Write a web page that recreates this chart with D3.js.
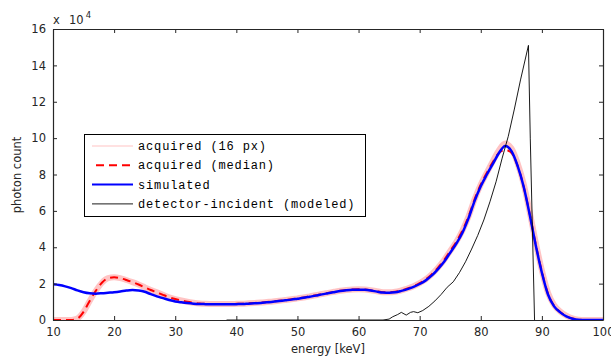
<!DOCTYPE html>
<html>
<head>
<meta charset="utf-8">
<script src="https://cdn.jsdelivr.net/npm/d3@7"></script>
<style>
  body { margin: 0; background: #fff; }
  svg { display: block; }
  .tick-label { font-family: "DejaVu Sans", sans-serif; font-size: 11.5px; fill: #262626; }
  .legend-text { font-family: "Liberation Mono", monospace; font-size: 12px; letter-spacing: 0.85px; fill: #000; }
</style>
</head>
<body>
<div id="chart"></div>
<script>
var width = 611, height = 358
var margins = { left: 53, right: 8, top: 29, bottom: 38 }

// energy grid (keV) for the measured / simulated spectra
var energy = d3.range(10, 101)

// simulated spectrum (x 10^4)
var simulated = [
  1.96, 1.92, 1.85, 1.75, 1.63, 1.53, 1.47, 1.45, 1.47, 1.50,
  1.53, 1.57, 1.62, 1.65, 1.62, 1.55, 1.42, 1.30, 1.20, 1.10,
  1.02, 0.97, 0.93, 0.90, 0.88, 0.87, 0.86, 0.86, 0.86, 0.86,
  0.87, 0.88, 0.90, 0.92, 0.94, 0.97, 1.00, 1.04, 1.08, 1.12,
  1.17, 1.22, 1.28, 1.34, 1.41, 1.47, 1.53, 1.59, 1.63, 1.66,
  1.67, 1.66, 1.62, 1.56, 1.51, 1.50, 1.52, 1.60, 1.70, 1.82,
  1.98, 2.18, 2.45, 2.80, 3.20, 3.70, 4.20, 4.80, 5.60, 6.55,
  7.35, 8.00, 8.60, 9.20, 9.57, 9.30, 8.50, 7.35, 5.80, 4.10,
  2.60, 1.40, 0.75, 0.42, 0.20, 0.07, 0.01, 0, 0, 0, 0
]

// acquired spectrum, median over pixels (x 10^4)
var acquiredMedian = [
  0, 0, 0, 0, 0.08, 0.45, 1.05, 1.60, 2.05, 2.30,
  2.35, 2.30, 2.20, 2.08, 1.95, 1.80, 1.65, 1.52, 1.38, 1.25,
  1.15, 1.07, 1.00, 0.95, 0.91, 0.89, 0.88, 0.88, 0.88, 0.88,
  0.89, 0.90, 0.92, 0.94, 0.96, 0.99, 1.02, 1.06, 1.10, 1.14,
  1.19, 1.24, 1.30, 1.36, 1.43, 1.49, 1.55, 1.61, 1.65, 1.68,
  1.69, 1.68, 1.64, 1.58, 1.53, 1.52, 1.55, 1.63, 1.73, 1.86,
  2.03, 2.24, 2.52, 2.88, 3.30, 3.80, 4.30, 4.92, 5.70, 6.65,
  7.45, 8.10, 8.70, 9.20, 9.35, 9.20, 8.50, 7.35, 5.85, 4.15,
  2.65, 1.45, 0.78, 0.44, 0.22, 0.08, 0.02, 0, 0, 0, 0
]

// acquired spectra of the 16 single pixels, drawn as one light band (x 10^4)
var acquired16 = [
  0, 0, 0, 0, 0.08, 0.45, 1.05, 1.60, 2.05, 2.30,
  2.35, 2.30, 2.20, 2.08, 1.95, 1.80, 1.65, 1.52, 1.38, 1.25,
  1.15, 1.07, 1.00, 0.95, 0.91, 0.89, 0.88, 0.88, 0.88, 0.88,
  0.89, 0.90, 0.92, 0.94, 0.96, 0.99, 1.02, 1.06, 1.10, 1.14,
  1.19, 1.24, 1.30, 1.36, 1.43, 1.49, 1.55, 1.61, 1.65, 1.68,
  1.69, 1.68, 1.64, 1.58, 1.53, 1.52, 1.55, 1.63, 1.73, 1.86,
  2.03, 2.24, 2.52, 2.88, 3.30, 3.80, 4.30, 4.92, 5.70, 6.65,
  7.45, 8.10, 8.75, 9.35, 9.70, 9.45, 8.65, 7.50, 5.95, 4.25,
  2.72, 1.50, 0.82, 0.47, 0.24, 0.09, 0.02, 0, 0, 0, 0
]

// detector-incident spectrum (modeled), own energy grid
var incidentEnergy = [
  38.4, 64.0, 65.0, 65.6, 66.4, 67.0, 67.8, 68.5, 69.0, 69.7, 70.5,
  71.5, 72.5, 73.5, 74.5, 75.5, 76.5, 77.5, 78.5, 79.5, 80.5,
  81.5, 82.5, 83.5, 84.5, 85.5, 86.5, 87.8, 88.1, 88.8
]
var incident = [
  0, 0, 0.05, 0.18, 0.30, 0.42, 0.27, 0.42, 0.46, 0.40, 0.52,
  0.75, 1.05, 1.40, 1.80, 2.10, 2.60, 3.20, 3.90, 4.65, 5.50,
  6.50, 7.60, 8.90, 10.10, 11.60, 13.20, 15.10, 10.0, 0
]

var xTicks = d3.range(10, 101, 10)
var yTicks = d3.range(0, 17, 2)

var legendLabels = ['acquired (16 px)', 'acquired (median)', 'simulated', 'detector-incident (modeled)']

var w = width - margins.left - margins.right,
    h = height - margins.top - margins.bottom

var x = d3.scaleLinear().domain([10, 100]).range([0, w])
var y = d3.scaleLinear().domain([0, 16]).range([h, 0])

var svg = d3.select('#chart').append('svg')
    .attr('width', width)
    .attr('height', height)

var vis = svg.append('g')
    .attr('transform', 'translate(' + margins.left + ',' + margins.top + ')')

var clip = vis.append('clipPath').attr('id', 'clip')
clip.append('rect').attr('x', 0).attr('y', -2).attr('width', w).attr('height', h + 2)

var plot = vis.append('g').attr('clip-path', 'url(#clip)')

function series(xs, ys) {
    return xs.map(function(e, i) { return [e, ys[i]] })
}

var smooth = d3.line()
    .x(function(d) { return x(d[0]) })
    .y(function(d) { return y(d[1]) })
    .curve(d3.curveMonotoneX)

var straight = d3.line()
    .x(function(d) { return x(d[0]) })
    .y(function(d) { return y(d[1]) })

// acquired (16 px)
plot.append('path')
    .datum(series(energy, acquired16))
    .attr('d', smooth)
    .attr('fill', 'none')
    .attr('stroke', '#ffc4c4')
    .attr('stroke-width', 6)
    .attr('stroke-linejoin', 'round')

// acquired (median)
plot.append('path')
    .datum(series(energy, acquiredMedian))
    .attr('d', smooth)
    .attr('fill', 'none')
    .attr('stroke', '#ff0000')
    .attr('stroke-width', 2)
    .attr('stroke-dasharray', '8,5')

// simulated
plot.append('path')
    .datum(series(energy, simulated))
    .attr('d', smooth)
    .attr('fill', 'none')
    .attr('stroke', '#0000ff')
    .attr('stroke-width', 2.5)

// detector incident
plot.append('path')
    .datum(series(incidentEnergy, incident))
    .attr('d', straight)
    .attr('fill', 'none')
    .attr('stroke', '#000')
    .attr('stroke-width', 0.9)

// axes box with inward ticks on all four sides
var axisBottom = vis.append('g').attr('transform', 'translate(0,' + h + ')')
    .call(d3.axisBottom(x).tickValues(xTicks).tickSizeInner(-4).tickSizeOuter(0).tickPadding(8))
var axisTop = vis.append('g')
    .call(d3.axisTop(x).tickValues(xTicks).tickSizeInner(-4).tickSizeOuter(0).tickFormat(''))
var axisLeft = vis.append('g')
    .call(d3.axisLeft(y).tickValues(yTicks).tickSizeInner(-4).tickSizeOuter(0).tickPadding(7))
var axisRight = vis.append('g').attr('transform', 'translate(' + w + ',0)')
    .call(d3.axisRight(y).tickValues(yTicks).tickSizeInner(-4).tickSizeOuter(0).tickFormat(''))

;[axisBottom, axisTop, axisLeft, axisRight].forEach(function(a) {
    a.attr('font-family', null).attr('font-size', null)
    a.select('.domain').attr('stroke', '#262626').attr('stroke-width', 1.2)
    a.selectAll('.tick line').attr('stroke', '#262626')
    a.selectAll('.tick text').attr('class', 'tick-label').attr('fill', null)
})

// exponent label
var expo = vis.append('text')
    .attr('class', 'tick-label')
    .attr('y', -5)
expo.append('tspan').attr('x', 0).text('x')
expo.append('tspan').attr('x', 16).text('10')
expo.append('tspan').attr('font-size', '8.5px').attr('dy', -6).attr('dx', 2).text('4')

// axis titles
svg.append('text')
    .attr('class', 'tick-label')
    .attr('x', margins.left + w / 2)
    .attr('y', 353)
    .attr('text-anchor', 'middle')
    .text('energy [keV]')

svg.append('text')
    .attr('class', 'tick-label')
    .attr('transform', 'translate(21,175) rotate(-90)')
    .attr('text-anchor', 'middle')
    .text('photon count')

// legend
var legend = svg.append('g')
legend.append('rect')
    .attr('x', 84.5).attr('y', 134.5)
    .attr('width', 281).attr('height', 82)
    .attr('fill', '#fff')
    .attr('stroke', '#000')
    .attr('stroke-width', 1)

var legendStyles = [
    { stroke: '#ffc4c4', width: 1.2, dash: null },
    { stroke: '#ff0000', width: 2, dash: '8,5' },
    { stroke: '#0000ff', width: 2, dash: null },
    { stroke: '#000', width: 0.9, dash: null }
]

legendLabels.forEach(function(label, i) {
    var cy = 146 + i * 19.3
    legend.append('line')
        .attr('x1', legendStyles[i].dash ? 96 : 92).attr('x2', 133)
        .attr('y1', cy).attr('y2', cy)
        .attr('stroke', legendStyles[i].stroke)
        .attr('stroke-width', legendStyles[i].width)
        .attr('stroke-dasharray', legendStyles[i].dash)
    legend.append('text')
        .attr('class', 'legend-text')
        .attr('x', 138)
        .attr('y', cy + 4)
        .text(label)
})
</script>
</body>
</html>
